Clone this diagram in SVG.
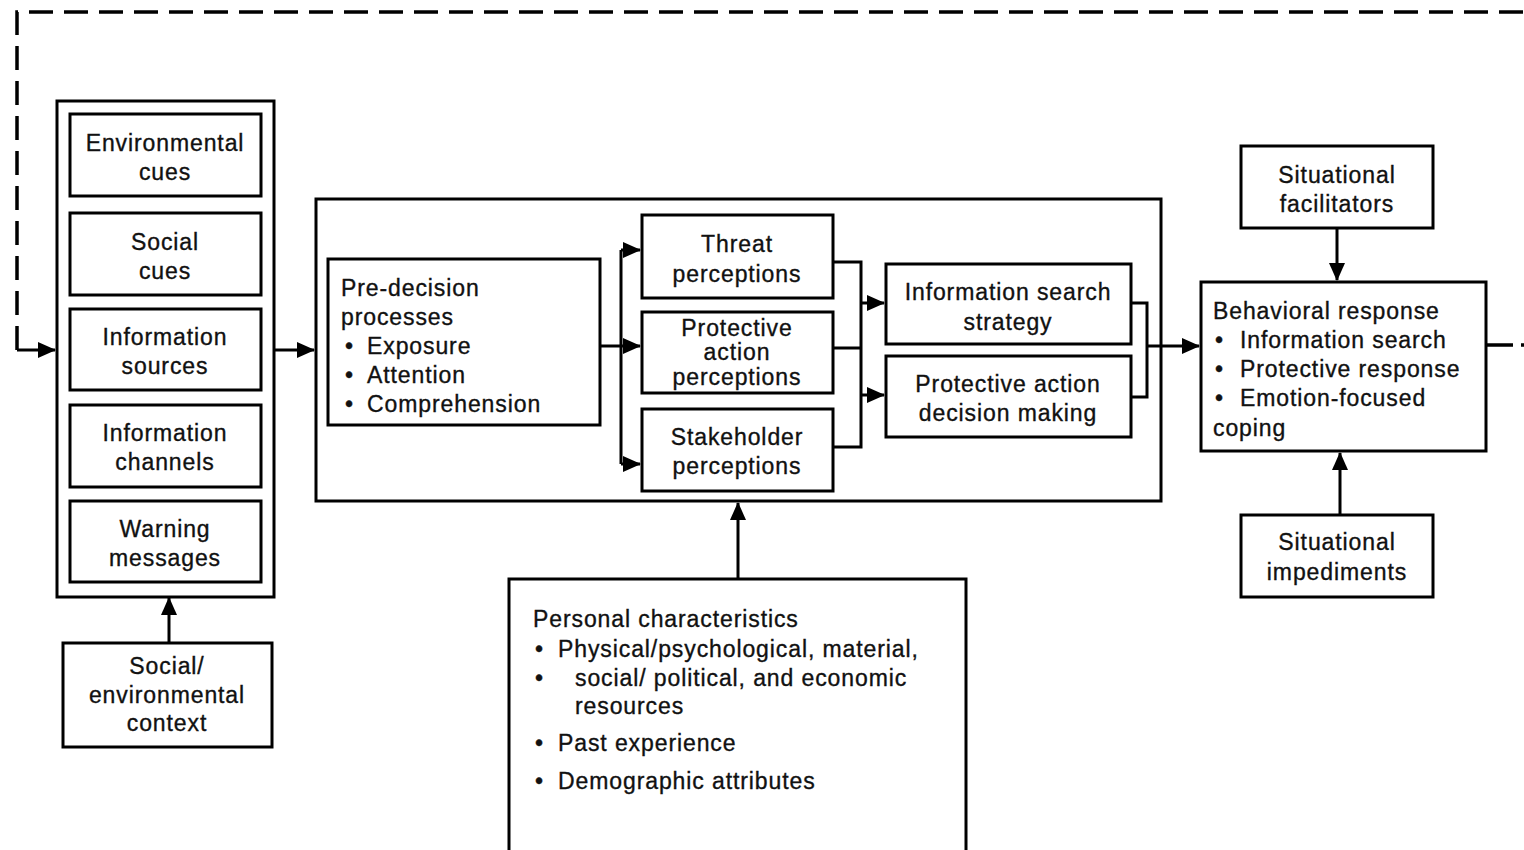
<svg xmlns="http://www.w3.org/2000/svg" width="1524" height="850" viewBox="0 0 1524 850">
<defs>
<style>
.box{fill:#fff;stroke:#000;stroke-width:3}
.frame{fill:none;stroke:#000;stroke-width:3}
.t{font-family:"Liberation Sans",Arial,sans-serif;font-size:23px;letter-spacing:0.9px;fill:#111;stroke:#111;stroke-width:0.35}
.c{text-anchor:middle}
.ln{fill:none;stroke:#000;stroke-width:3}
.dash{fill:none;stroke:#000;stroke-width:3.5;stroke-dasharray:24,11}
</style>
<marker id="ah" viewBox="0 0 18 16" refX="17" refY="8" markerWidth="18" markerHeight="16" markerUnits="userSpaceOnUse" orient="auto">
<path d="M0,0 L18,8 L0,16 Z" fill="#000"/>
</marker>
</defs>
<rect width="1524" height="850" fill="#fff"/>

<g id="sources-group">
<rect class="box" x="57" y="101" width="217" height="496"/>
</g>
<g id="environmental-cues">
<rect class="box" x="70" y="114" width="191" height="82"/>
<text class="t c" x="165" y="151">Environmental</text>
<text class="t c" x="165" y="180">cues</text>
</g>
<g id="social-cues">
<rect class="box" x="70" y="213" width="191" height="82"/>
<text class="t c" x="165" y="250">Social</text>
<text class="t c" x="165" y="279">cues</text>
</g>
<g id="information-sources">
<rect class="box" x="70" y="309" width="191" height="81"/>
<text class="t c" x="165" y="345">Information</text>
<text class="t c" x="165" y="374">sources</text>
</g>
<g id="information-channels">
<rect class="box" x="70" y="405" width="191" height="82"/>
<text class="t c" x="165" y="441">Information</text>
<text class="t c" x="165" y="470">channels</text>
</g>
<g id="warning-messages">
<rect class="box" x="70" y="501" width="191" height="81"/>
<text class="t c" x="165" y="537">Warning</text>
<text class="t c" x="165" y="566">messages</text>
</g>
<g id="social-environmental-context">
<rect class="box" x="63" y="643" width="209" height="104"/>
<text class="t c" x="167" y="674">Social/</text>
<text class="t c" x="167" y="703">environmental</text>
<text class="t c" x="167" y="731">context</text>
</g>

<g id="decision-process">
<rect class="frame" x="316" y="199" width="845" height="302"/>
</g>
<g id="pre-decision">
<rect class="box" x="328" y="259" width="272" height="166"/>
<text class="t" x="341" y="296">Pre-decision</text>
<text class="t" x="341" y="325">processes</text>
<text class="t" x="345" y="354">•</text><text class="t" x="367" y="354">Exposure</text>
<text class="t" x="345" y="383">•</text><text class="t" x="367" y="383">Attention</text>
<text class="t" x="345" y="412">•</text><text class="t" x="367" y="412">Comprehension</text>
</g>
<g id="threat-perceptions">
<rect class="box" x="642" y="215" width="191" height="83"/>
<text class="t c" x="737" y="252">Threat</text>
<text class="t c" x="737" y="282">perceptions</text>
</g>
<g id="protective-action-perceptions">
<rect class="box" x="642" y="312" width="191" height="81"/>
<text class="t c" x="737" y="336">Protective</text>
<text class="t c" x="737" y="360">action</text>
<text class="t c" x="737" y="385">perceptions</text>
</g>
<g id="stakeholder-perceptions">
<rect class="box" x="642" y="409" width="191" height="82"/>
<text class="t c" x="737" y="445">Stakeholder</text>
<text class="t c" x="737" y="474">perceptions</text>
</g>
<g id="information-search-strategy">
<rect class="box" x="886" y="264" width="245" height="80"/>
<text class="t c" x="1008" y="300">Information search</text>
<text class="t c" x="1008" y="330">strategy</text>
</g>
<g id="protective-action-decision-making">
<rect class="box" x="886" y="356" width="245" height="81"/>
<text class="t c" x="1008" y="392">Protective action</text>
<text class="t c" x="1008" y="421">decision making</text>
</g>

<g id="situational-facilitators">
<rect class="box" x="1241" y="146" width="192" height="82"/>
<text class="t c" x="1337" y="183">Situational</text>
<text class="t c" x="1337" y="212">facilitators</text>
</g>
<g id="behavioral-response">
<rect class="box" x="1201" y="282" width="285" height="169"/>
<text class="t" x="1213" y="319">Behavioral response</text>
<text class="t" x="1215" y="348">•</text><text class="t" x="1240" y="348">Information search</text>
<text class="t" x="1215" y="377">•</text><text class="t" x="1240" y="377">Protective response</text>
<text class="t" x="1215" y="406">•</text><text class="t" x="1240" y="406">Emotion-focused</text>
<text class="t" x="1213" y="436">coping</text>
</g>
<g id="situational-impediments">
<rect class="box" x="1241" y="515" width="192" height="82"/>
<text class="t c" x="1337" y="550">Situational</text>
<text class="t c" x="1337" y="580">impediments</text>
</g>

<g id="personal-characteristics">
<rect class="box" x="509" y="579" width="457" height="290"/>
<text class="t" x="533" y="627">Personal characteristics</text>
<text class="t" x="535" y="657">•</text><text class="t" x="558" y="657">Physical/psychological, material,</text>
<text class="t" x="535" y="686">•</text><text class="t" x="575" y="686">social/ political, and economic</text>
<text class="t" x="575" y="714">resources</text>
<text class="t" x="535" y="751">•</text><text class="t" x="558" y="751">Past experience</text>
<text class="t" x="535" y="789">•</text><text class="t" x="558" y="789">Demographic attributes</text>
</g>

<g id="connectors">
<path class="dash" d="M17,350 V12 H1524"/>
<path class="ln" d="M17,350 H55" marker-end="url(#ah)"/>
<path class="ln" d="M274,350 H314" marker-end="url(#ah)"/>
<path class="ln" d="M600,346 H621"/>
<path class="ln" d="M621,250 V464"/>
<path class="ln" d="M621,250 H640" marker-end="url(#ah)"/>
<path class="ln" d="M621,346 H640" marker-end="url(#ah)"/>
<path class="ln" d="M621,464 H640" marker-end="url(#ah)"/>
<path class="ln" d="M833,262 H861 V447 H833"/>
<path class="ln" d="M833,348 H861"/>
<path class="ln" d="M861,303 H884" marker-end="url(#ah)"/>
<path class="ln" d="M861,395 H884" marker-end="url(#ah)"/>
<path class="ln" d="M1131,303 H1147 V397 H1131"/>
<path class="ln" d="M1147,346 H1199" marker-end="url(#ah)"/>
<path class="ln" d="M1337,228 V280" marker-end="url(#ah)"/>
<path class="ln" d="M1340,515 V453" marker-end="url(#ah)"/>
<path class="dash" d="M1487,345 H1524" style="stroke-dasharray:26,8"/>
<path class="ln" d="M738,579 V503" marker-end="url(#ah)"/>
<path class="ln" d="M169,643 V598" marker-end="url(#ah)"/>
</g>
</svg>
